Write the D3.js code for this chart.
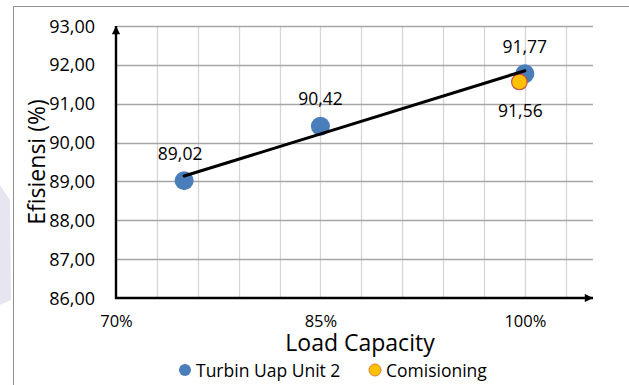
<!DOCTYPE html>
<html>
<head>
<meta charset="utf-8">
<script src="https://cdn.jsdelivr.net/npm/d3@7/dist/d3.min.js"></script>
<style>
  html, body { margin: 0; padding: 0; background: #fff; }
  svg { display: block; font-family: "Open Sans", sans-serif; }
</style>
</head>
<body>
<svg id="chart" width="629" height="385"></svg>
<script>
// Efficiency of steam turbine unit 2 by load capacity
const loadTurbin = [0.75, 0.85, 1.00];
const effTurbin = [89.02, 90.42, 91.77];
const loadComm = [0.996];
const effComm = [91.56];

const yTicks = [86, 87, 88, 89, 90, 91, 92, 93];
const xMajorTicks = [0.70, 0.85, 1.00];
const xMinorGrid = [0.73, 0.76, 0.79, 0.82, 0.85, 0.88, 0.91, 0.94, 0.97, 1.00, 1.03];

const seriesNames = ["Turbin Uap Unit 2", "Comisioning"];

const fmtComma = v => v.toFixed(2).replace(".", ",");
const fmtPct = v => Math.round(v * 100) + "%";

const svg = d3.select("#chart");

// faint watermark shape at the left edge
svg.append("path")
  .attr("d", "M0,185 L10,200 L11,300 L0,305 Z")
  .attr("fill", "#e6e6f0");

// outer frame (top and left visible)
svg.append("path")
  .attr("d", "M13.5,385 L13.5,6.5 L629,6.5")
  .attr("fill", "none")
  .attr("stroke", "#8f8f8f")
  .attr("stroke-width", 1);

const x = d3.scaleLinear().domain([0.70, 1.05]).range([116, 593]);
const y = d3.scaleLinear().domain([86, 93]).range([298, 26]);

// vertical (minor) gridlines
svg.append("g").selectAll("line")
  .data(xMinorGrid).join("line")
  .attr("x1", d => Math.round(x(d)) + 0.5).attr("x2", d => Math.round(x(d)) + 0.5)
  .attr("y1", y(93)).attr("y2", y(86))
  .attr("stroke", "#d6d6d6").attr("stroke-width", 1.3);

// horizontal gridlines
svg.append("g").selectAll("line")
  .data(yTicks.filter(d => d > 86)).join("line")
  .attr("x1", x(0.70)).attr("x2", x(1.05))
  .attr("y1", d => Math.round(y(d)) + 0.5).attr("y2", d => Math.round(y(d)) + 0.5)
  .attr("stroke", "#a6a6a6").attr("stroke-width", 1.3);

// y axis labels
const yAxis = d3.axisLeft(y).tickValues(yTicks).tickFormat(fmtComma).tickSize(0).tickPadding(21);
const gy = svg.append("g").attr("transform", `translate(${x(0.70)},0)`).call(yAxis);
gy.select(".domain").remove();
gy.selectAll("text").attr("font-size", 18).attr("fill", "#000").attr("font-family", "Open Sans").attr("dy", "0.34em");

// x axis labels
const xAxis = d3.axisBottom(x).tickValues(xMajorTicks).tickFormat(fmtPct).tickSize(0).tickPadding(17);
const gx = svg.append("g").attr("transform", `translate(0,${y(86)})`).call(xAxis);
gx.select(".domain").remove();
gx.selectAll("text").attr("font-size", 16.5).attr("fill", "#000").attr("font-family", "Open Sans");

// arrow markers for the axes
const defs = svg.append("defs");
defs.append("marker")
  .attr("id", "arrow")
  .attr("viewBox", "0 0 10 10")
  .attr("refX", 10).attr("refY", 5)
  .attr("markerWidth", 4.2).attr("markerHeight", 3.4)
  .attr("orient", "auto")
  .attr("markerUnits", "strokeWidth")
  .append("path").attr("d", "M0,0 L10,5 L0,10 Z").attr("fill", "#000");

svg.append("line")
  .attr("x1", x(0.70)).attr("y1", y(86) + 1)
  .attr("x2", x(0.70)).attr("y2", y(93))
  .attr("stroke", "#000").attr("stroke-width", 2.4)
  .attr("marker-end", "url(#arrow)");
svg.append("line")
  .attr("x1", x(0.70) - 1).attr("y1", y(86))
  .attr("x2", x(1.05)).attr("y2", y(86))
  .attr("stroke", "#000").attr("stroke-width", 2.4)
  .attr("marker-end", "url(#arrow)");

// linear trendline through the turbine points
const mx = d3.mean(loadTurbin), my = d3.mean(effTurbin);
const sxy = d3.sum(loadTurbin, (v, i) => (v - mx) * (effTurbin[i] - my));
const sxx = d3.sum(loadTurbin, v => (v - mx) * (v - mx));
const slope = sxy / sxx, intercept = my - slope * mx;
const xExt = d3.extent(loadTurbin);

// turbine points
svg.append("g").selectAll("circle")
  .data(loadTurbin.map((l, i) => ({ l, e: effTurbin[i] }))).join("circle")
  .attr("cx", d => x(d.l)).attr("cy", d => y(d.e))
  .attr("r", 9.5).attr("fill", "#4a7ebb");

// commissioning point
svg.append("g").selectAll("circle")
  .data(loadComm.map((l, i) => ({ l, e: effComm[i] }))).join("circle")
  .attr("cx", d => x(d.l)).attr("cy", d => y(d.e))
  .attr("r", 7.8).attr("fill", "#ffc000")
  .attr("stroke", "#c0504d").attr("stroke-width", 1.2);

svg.append("line")
  .attr("x1", x(xExt[0])).attr("y1", y(intercept + slope * xExt[0]))
  .attr("x2", x(xExt[1])).attr("y2", y(intercept + slope * xExt[1]))
  .attr("stroke", "#000").attr("stroke-width", 3).attr("stroke-linecap", "round");

// value labels
svg.append("g").selectAll("text")
  .data(loadTurbin.map((l, i) => ({ l, e: effTurbin[i] }))).join("text")
  .attr("x", d => x(d.l) - (d.l === 0.75 ? 4 : 0)).attr("y", d => y(d.e) - 21)
  .attr("text-anchor", "middle").attr("font-size", 17.5).attr("fill", "#000")
  .text(d => fmtComma(d.e));
svg.append("g").selectAll("text")
  .data(loadComm.map((l, i) => ({ l, e: effComm[i] }))).join("text")
  .attr("x", d => x(d.l) + 1).attr("y", d => y(d.e) + 35)
  .attr("text-anchor", "middle").attr("font-size", 17.5).attr("fill", "#000")
  .text(d => fmtComma(d.e));

// axis titles
svg.append("text")
  .attr("x", 360).attr("y", 351)
  .attr("text-anchor", "middle").attr("font-size", 23).attr("fill", "#000")
  .text("Load Capacity");
svg.append("text")
  .attr("transform", "translate(45,162) rotate(-90)")
  .attr("text-anchor", "middle").attr("font-size", 23).attr("fill", "#000")
  .text("Efisiensi (%)");

// legend
const legendColors = [["#4a7ebb", "none"], ["#ffc000", "#e07b39"]];
const legendX = [185, 375];
const lg = svg.append("g");
seriesNames.forEach((name, i) => {
  lg.append("circle")
    .attr("cx", legendX[i]).attr("cy", 370).attr("r", 6)
    .attr("fill", legendColors[i][0])
    .attr("stroke", legendColors[i][1]).attr("stroke-width", 1);
  lg.append("text")
    .attr("x", legendX[i] + 11).attr("y", 376.5)
    .attr("font-size", 17.5).attr("fill", "#000")
    .text(name);
});
</script>
</body>
</html>
